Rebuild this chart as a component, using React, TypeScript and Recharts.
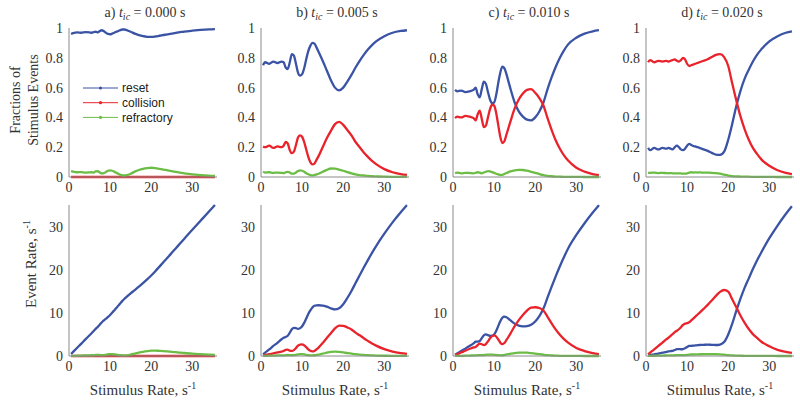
import React from 'react';
import { LineChart, Line, XAxis, YAxis } from 'recharts';

// stimulus rate grid (s^-1), denser where the curves wiggle
const stimulusRate = [0.5, 1, 2, 3, 4, 5, 5.5, 6, 6.5, 7, 7.5, 8, 8.5, 9, 9.5, 10, 10.5, 11, 11.5, 12, 12.5, 13, 13.5, 14, 15, 16, 17, 18, 19, 20, 21, 22, 23, 24, 25, 26, 27, 28, 30, 32, 34, 35.5];

// a) t_ic = 0.000 s
const fracA_reset = [0.96, 0.965, 0.97, 0.968, 0.972, 0.97, 0.968, 0.972, 0.975, 0.97, 0.98, 0.985, 0.978, 0.968, 0.96, 0.958, 0.962, 0.968, 0.975, 0.98, 0.986, 0.99, 0.99, 0.986, 0.975, 0.962, 0.952, 0.945, 0.941, 0.94, 0.943, 0.948, 0.953, 0.958, 0.963, 0.968, 0.972, 0.976, 0.982, 0.987, 0.991, 0.993];
const fracA_collision = [0, 0, 0, 0, 0, 0, 0, 0, 0, 0, 0, 0, 0, 0, 0, 0, 0, 0, 0, 0, 0, 0, 0, 0, 0, 0, 0, 0, 0, 0, 0, 0, 0, 0, 0, 0, 0, 0, 0, 0, 0, 0];
const fracA_refractory = [0.04, 0.036, 0.032, 0.033, 0.03, 0.031, 0.032, 0.03, 0.038, 0.04, 0.03, 0.024, 0.026, 0.034, 0.042, 0.045, 0.042, 0.036, 0.028, 0.022, 0.015, 0.011, 0.01, 0.012, 0.022, 0.036, 0.047, 0.055, 0.06, 0.062, 0.06, 0.055, 0.05, 0.044, 0.039, 0.034, 0.029, 0.025, 0.018, 0.013, 0.009, 0.007];
const rateA_reset = [0.48, 0.97, 1.94, 2.9, 3.89, 4.85, 5.32, 5.83, 6.34, 6.79, 7.35, 7.88, 8.31, 8.71, 9.12, 9.58, 10.1, 10.65, 11.21, 11.76, 12.33, 12.87, 13.37, 13.8, 14.63, 15.39, 16.18, 17.01, 17.88, 18.8, 19.8, 20.86, 21.92, 22.99, 24.08, 25.17, 26.24, 27.33, 29.46, 31.58, 33.69, 35.25];
const rateA_collision = [0, 0, 0, 0, 0, 0, 0, 0, 0, 0, 0, 0, 0, 0, 0, 0, 0, 0, 0, 0, 0, 0, 0, 0, 0, 0, 0, 0, 0, 0, 0, 0, 0, 0, 0, 0, 0, 0, 0, 0, 0, 0];
const rateA_refractory = [0.02, 0.036, 0.064, 0.1, 0.12, 0.155, 0.18, 0.18, 0.25, 0.28, 0.23, 0.19, 0.22, 0.31, 0.4, 0.45, 0.44, 0.4, 0.32, 0.26, 0.19, 0.14, 0.14, 0.17, 0.33, 0.58, 0.8, 0.99, 1.14, 1.24, 1.26, 1.21, 1.15, 1.06, 0.98, 0.88, 0.78, 0.7, 0.54, 0.42, 0.31, 0.25];

// b) t_ic = 0.005 s
const fracB_reset = [0.75, 0.77, 0.76, 0.775, 0.765, 0.775, 0.77, 0.735, 0.725, 0.77, 0.825, 0.815, 0.76, 0.7, 0.68, 0.69, 0.73, 0.79, 0.845, 0.88, 0.9, 0.895, 0.87, 0.84, 0.78, 0.715, 0.65, 0.6, 0.582, 0.6, 0.64, 0.685, 0.735, 0.78, 0.82, 0.855, 0.885, 0.91, 0.945, 0.968, 0.98, 0.985];
const fracB_collision = [0.205, 0.2, 0.21, 0.195, 0.205, 0.2, 0.21, 0.235, 0.225, 0.18, 0.16, 0.17, 0.215, 0.265, 0.28, 0.27, 0.235, 0.185, 0.135, 0.1, 0.085, 0.09, 0.115, 0.14, 0.2, 0.26, 0.31, 0.355, 0.37, 0.35, 0.315, 0.28, 0.235, 0.2, 0.165, 0.135, 0.108, 0.086, 0.053, 0.032, 0.02, 0.014];
const fracB_refractory = [0.036, 0.03, 0.032, 0.028, 0.03, 0.028, 0.026, 0.032, 0.035, 0.03, 0.022, 0.022, 0.03, 0.04, 0.045, 0.042, 0.035, 0.025, 0.018, 0.013, 0.011, 0.013, 0.018, 0.022, 0.035, 0.048, 0.057, 0.056, 0.05, 0.042, 0.033, 0.025, 0.018, 0.013, 0.01, 0.007, 0.005, 0.004, 0.002, 0.001, 0.001, 0.001];
const rateB_reset = [0.38, 0.77, 1.52, 2.33, 3.06, 3.88, 4.24, 4.41, 4.71, 5.39, 6.19, 6.52, 6.46, 6.3, 6.46, 6.9, 7.67, 8.69, 9.72, 10.56, 11.25, 11.64, 11.75, 11.76, 11.7, 11.44, 11.05, 10.8, 11.06, 12.0, 13.44, 15.07, 16.9, 18.72, 20.5, 22.23, 23.9, 25.48, 28.35, 30.98, 33.32, 34.97];
const rateB_collision = [0.1, 0.2, 0.42, 0.59, 0.82, 1.0, 1.16, 1.41, 1.46, 1.26, 1.2, 1.36, 1.83, 2.39, 2.66, 2.7, 2.47, 2.04, 1.55, 1.2, 1.06, 1.17, 1.55, 1.96, 3.0, 4.16, 5.27, 6.39, 7.03, 7.0, 6.62, 6.16, 5.41, 4.8, 4.13, 3.51, 2.92, 2.41, 1.59, 1.02, 0.68, 0.5];
const rateB_refractory = [0.02, 0.03, 0.064, 0.084, 0.12, 0.14, 0.14, 0.19, 0.23, 0.21, 0.17, 0.18, 0.26, 0.36, 0.43, 0.42, 0.37, 0.28, 0.21, 0.16, 0.14, 0.17, 0.24, 0.31, 0.53, 0.77, 0.97, 1.01, 0.95, 0.84, 0.69, 0.55, 0.41, 0.31, 0.25, 0.18, 0.14, 0.11, 0.06, 0.03, 0.03, 0.04];

// c) t_ic = 0.010 s
const fracC_reset = [0.585, 0.575, 0.58, 0.57, 0.575, 0.585, 0.6, 0.555, 0.535, 0.59, 0.64, 0.625, 0.57, 0.52, 0.495, 0.5, 0.55, 0.63, 0.7, 0.74, 0.73, 0.69, 0.64, 0.59, 0.5, 0.44, 0.405, 0.385, 0.38, 0.4, 0.44, 0.5, 0.59, 0.67, 0.74, 0.8, 0.85, 0.89, 0.935, 0.962, 0.978, 0.985];
const fracC_collision = [0.395, 0.405, 0.4, 0.41, 0.405, 0.395, 0.38, 0.42, 0.445, 0.39, 0.335, 0.345, 0.4, 0.455, 0.485, 0.48, 0.43, 0.35, 0.27, 0.228, 0.24, 0.285, 0.33, 0.375, 0.46, 0.52, 0.56, 0.585, 0.59, 0.565, 0.53, 0.48, 0.395, 0.315, 0.245, 0.19, 0.145, 0.11, 0.062, 0.036, 0.02, 0.013];
const fracC_refractory = [0.025, 0.03, 0.025, 0.028, 0.027, 0.025, 0.028, 0.032, 0.03, 0.025, 0.03, 0.035, 0.04, 0.038, 0.033, 0.028, 0.022, 0.018, 0.014, 0.014, 0.02, 0.027, 0.033, 0.038, 0.045, 0.048, 0.047, 0.042, 0.035, 0.028, 0.02, 0.013, 0.008, 0.005, 0.003, 0.002, 0.001, 0.001, 0.001, 0, 0, 0];
const rateC_reset = [0.29, 0.58, 1.16, 1.71, 2.3, 2.93, 3.3, 3.33, 3.48, 4.13, 4.8, 5.0, 4.85, 4.68, 4.7, 5.0, 5.78, 6.93, 8.05, 8.88, 9.13, 8.97, 8.64, 8.26, 7.5, 7.04, 6.89, 6.93, 7.22, 8.0, 9.24, 11.0, 13.57, 16.08, 18.5, 20.8, 22.95, 24.92, 28.05, 30.78, 33.25, 34.97];
const rateC_collision = [0.2, 0.41, 0.8, 1.23, 1.62, 1.98, 2.09, 2.52, 2.89, 2.73, 2.51, 2.76, 3.4, 4.1, 4.61, 4.8, 4.52, 3.85, 3.1, 2.74, 3.0, 3.71, 4.46, 5.25, 6.9, 8.32, 9.52, 10.53, 11.21, 11.3, 11.13, 10.56, 9.09, 7.56, 6.13, 4.94, 3.92, 3.08, 1.86, 1.15, 0.68, 0.46];
const rateC_refractory = [0.01, 0.03, 0.05, 0.08, 0.11, 0.13, 0.15, 0.19, 0.2, 0.18, 0.23, 0.28, 0.34, 0.34, 0.31, 0.28, 0.23, 0.2, 0.16, 0.17, 0.25, 0.35, 0.45, 0.53, 0.68, 0.77, 0.8, 0.76, 0.67, 0.56, 0.42, 0.29, 0.18, 0.12, 0.08, 0.05, 0.03, 0.03, 0.03, 0, 0, 0];

// d) t_ic = 0.020 s
const fracD_reset = [0.195, 0.18, 0.195, 0.185, 0.195, 0.19, 0.195, 0.19, 0.185, 0.2, 0.21, 0.2, 0.185, 0.18, 0.19, 0.21, 0.222, 0.215, 0.208, 0.205, 0.2, 0.196, 0.19, 0.185, 0.175, 0.162, 0.15, 0.148, 0.17, 0.25, 0.36, 0.48, 0.58, 0.66, 0.72, 0.775, 0.82, 0.855, 0.91, 0.945, 0.968, 0.978];
const fracD_collision = [0.77, 0.785, 0.77, 0.78, 0.775, 0.78, 0.775, 0.78, 0.785, 0.79, 0.78, 0.775, 0.785, 0.8, 0.79, 0.76, 0.745, 0.75, 0.755, 0.76, 0.765, 0.77, 0.775, 0.78, 0.79, 0.805, 0.82, 0.825, 0.805, 0.745, 0.625, 0.51, 0.405, 0.32, 0.25, 0.195, 0.155, 0.12, 0.075, 0.045, 0.028, 0.02];
const fracD_refractory = [0.03, 0.028, 0.03, 0.026, 0.028, 0.026, 0.025, 0.026, 0.025, 0.024, 0.024, 0.025, 0.024, 0.022, 0.022, 0.024, 0.03, 0.032, 0.03, 0.031, 0.03, 0.031, 0.03, 0.03, 0.029, 0.028, 0.026, 0.022, 0.016, 0.01, 0.006, 0.004, 0.003, 0.002, 0.002, 0.001, 0.001, 0.001, 0.001, 0, 0, 0];
const rateD_reset = [0.1, 0.18, 0.39, 0.56, 0.78, 0.95, 1.07, 1.14, 1.2, 1.4, 1.58, 1.6, 1.57, 1.62, 1.8, 2.1, 2.33, 2.37, 2.39, 2.46, 2.5, 2.55, 2.57, 2.59, 2.63, 2.59, 2.55, 2.66, 3.23, 5.0, 7.56, 10.56, 13.34, 15.84, 18.0, 20.15, 22.14, 23.94, 27.3, 30.24, 32.91, 34.72];
const rateD_collision = [0.39, 0.79, 1.54, 2.34, 3.1, 3.9, 4.26, 4.68, 5.1, 5.53, 5.85, 6.2, 6.67, 7.2, 7.5, 7.6, 7.82, 8.25, 8.68, 9.12, 9.56, 10.01, 10.46, 10.92, 11.85, 12.88, 13.94, 14.85, 15.3, 14.9, 13.1, 11.22, 9.32, 7.68, 6.25, 5.07, 4.19, 3.36, 2.25, 1.44, 0.95, 0.71];
const rateD_refractory = [0.02, 0.03, 0.06, 0.08, 0.11, 0.13, 0.14, 0.16, 0.16, 0.17, 0.18, 0.2, 0.2, 0.2, 0.21, 0.24, 0.32, 0.35, 0.35, 0.37, 0.38, 0.4, 0.41, 0.42, 0.44, 0.45, 0.44, 0.4, 0.3, 0.2, 0.13, 0.09, 0.07, 0.05, 0.05, 0.03, 0.03, 0.03, 0.03, 0, 0, 0];

const seriesNames = ['reset', 'collision', 'refractory'];
const seriesColors = ['#3a53a4', '#e8232b', '#6bbd45'];
const panelLetters = ['a)', 'b)', 'c)', 'd)'];
const ticValues = ['0.000', '0.005', '0.010', '0.020'];
const xTicks = [0, 10, 20, 30];
const fractionTicks = [0, 0.2, 0.4, 0.6, 0.8, 1];
const rateTicks = [0, 10, 20, 30];

const toRows = (reset: number[], collision: number[], refractory: number[]) =>
  stimulusRate.map((x, i) => ({ x, reset: reset[i], collision: collision[i], refractory: refractory[i] }));

const fractionRows = [
  toRows(fracA_reset, fracA_collision, fracA_refractory),
  toRows(fracB_reset, fracB_collision, fracB_refractory),
  toRows(fracC_reset, fracC_collision, fracC_refractory),
  toRows(fracD_reset, fracD_collision, fracD_refractory),
];
const rateRows = [
  toRows(rateA_reset, rateA_collision, rateA_refractory),
  toRows(rateB_reset, rateB_collision, rateB_refractory),
  toRows(rateC_reset, rateC_collision, rateC_refractory),
  toRows(rateD_reset, rateD_collision, rateD_refractory),
];

const SERIF = 'Liberation Serif, DejaVu Serif, serif';
const SANS = 'Liberation Sans, Arial, sans-serif';
const AXIS_COLOR = '#8a8a8a';
const TEXT_COLOR = '#333';

const ORIGINS = [69, 261, 453, 646];
const PLOT_W = 148;
const AXIS_W = 45;
const PAD = 12;
const XAXIS_H = 30;

const TOP_Y = 28;
const TOP_H = 149;
const BOT_Y = 205;
const BOT_H = 151;

const tickStyle = { fontFamily: SERIF, fontSize: 14, fill: TEXT_COLOR };

type Row = { x: number; reset: number; collision: number; refractory: number };

function Panel({ originX, plotTop, plotH, rows, yDomain, yTicks }: {
  originX: number; plotTop: number; plotH: number; rows: Row[]; yDomain: [number, number]; yTicks: number[];
}) {
  return (
    <div style={{ position: 'absolute', left: originX - AXIS_W, top: plotTop - PAD }}>
      <LineChart
        width={AXIS_W + PLOT_W + PAD}
        height={PAD + plotH + XAXIS_H}
        data={rows}
        margin={{ top: PAD, right: PAD, bottom: 0, left: 0 }}
        style={{ fontFamily: SERIF }}
      >
        <XAxis
          type="number"
          dataKey="x"
          domain={[0, 36]}
          ticks={xTicks}
          interval={0}
          height={XAXIS_H}
          tickLine={false}
          tickSize={0}
          tickMargin={5}
          axisLine={{ stroke: AXIS_COLOR }}
          tick={tickStyle}
        />
        <YAxis
          type="number"
          domain={yDomain}
          ticks={yTicks}
          interval={0}
          width={AXIS_W}
          tickLine={false}
          tickSize={0}
          tickMargin={6}
          axisLine={{ stroke: AXIS_COLOR }}
          tick={tickStyle}
        />
        {seriesNames.map((name, i) => (
          <Line
            key={name}
            dataKey={name}
            type="monotone"
            stroke={seriesColors[i]}
            strokeWidth={2.3}
            dot={false}
            isAnimationActive={false}
          />
        ))}
      </LineChart>
    </div>
  );
}

export default function App() {
  return (
    <div style={{ position: 'absolute', left: 0, top: 0, width: 800, height: 405, background: '#fff', overflow: 'hidden' }}>
      {ORIGINS.map((ox, i) => (
        <React.Fragment key={i}>
          <Panel originX={ox} plotTop={TOP_Y} plotH={TOP_H} rows={fractionRows[i]} yDomain={[0, 1]} yTicks={fractionTicks} />
          <Panel originX={ox} plotTop={BOT_Y} plotH={BOT_H} rows={rateRows[i]} yDomain={[0, 35]} yTicks={rateTicks} />
        </React.Fragment>
      ))}
      <svg width={800} height={405} style={{ position: 'absolute', left: 0, top: 0, pointerEvents: 'none' }}>
        {ORIGINS.map((ox, i) => (
          <g key={i} style={{ fontFamily: SERIF }} fill={TEXT_COLOR}>
            <text x={ox + 76} y={17} fontSize={14} textAnchor="middle">
              {panelLetters[i]}{' '}
              <tspan fontStyle="italic">t</tspan>
              <tspan fontStyle="italic" fontSize={10} dy={3}>ic</tspan>
              <tspan dy={-3}>{' = ' + ticValues[i] + ' s'}</tspan>
            </text>
            <text x={ox + 74} y={395} fontSize={15} textAnchor="middle">
              Stimulus Rate, s
              <tspan fontSize={10} dy={-6}>-1</tspan>
            </text>
          </g>
        ))}
        <g style={{ fontFamily: SERIF }} fill={TEXT_COLOR} fontSize={14}>
          <text transform="translate(19.5,100) rotate(-90)" textAnchor="middle">Fractions of</text>
          <text transform="translate(38,100) rotate(-90)" textAnchor="middle">Stimulus  Events</text>
          <text transform="translate(36,264) rotate(-90)" textAnchor="middle" fontSize={15}>
            Event Rate, s
            <tspan fontSize={10} dy={-6}>-1</tspan>
          </text>
        </g>
        {seriesNames.map((name, i) => (
          <g key={name}>
            <line x1={83} x2={118} y1={88 + i * 14.7} y2={88 + i * 14.7} stroke={seriesColors[i]} strokeWidth={1} />
            <circle cx={100.5} cy={88 + i * 14.7} r={1.6} fill={seriesColors[i]} />
            <text x={122} y={88 + i * 14.7} dy="0.35em" style={{ fontFamily: SANS }} fontSize={12} fill="#222">{name}</text>
          </g>
        ))}
      </svg>
    </div>
  );
}
